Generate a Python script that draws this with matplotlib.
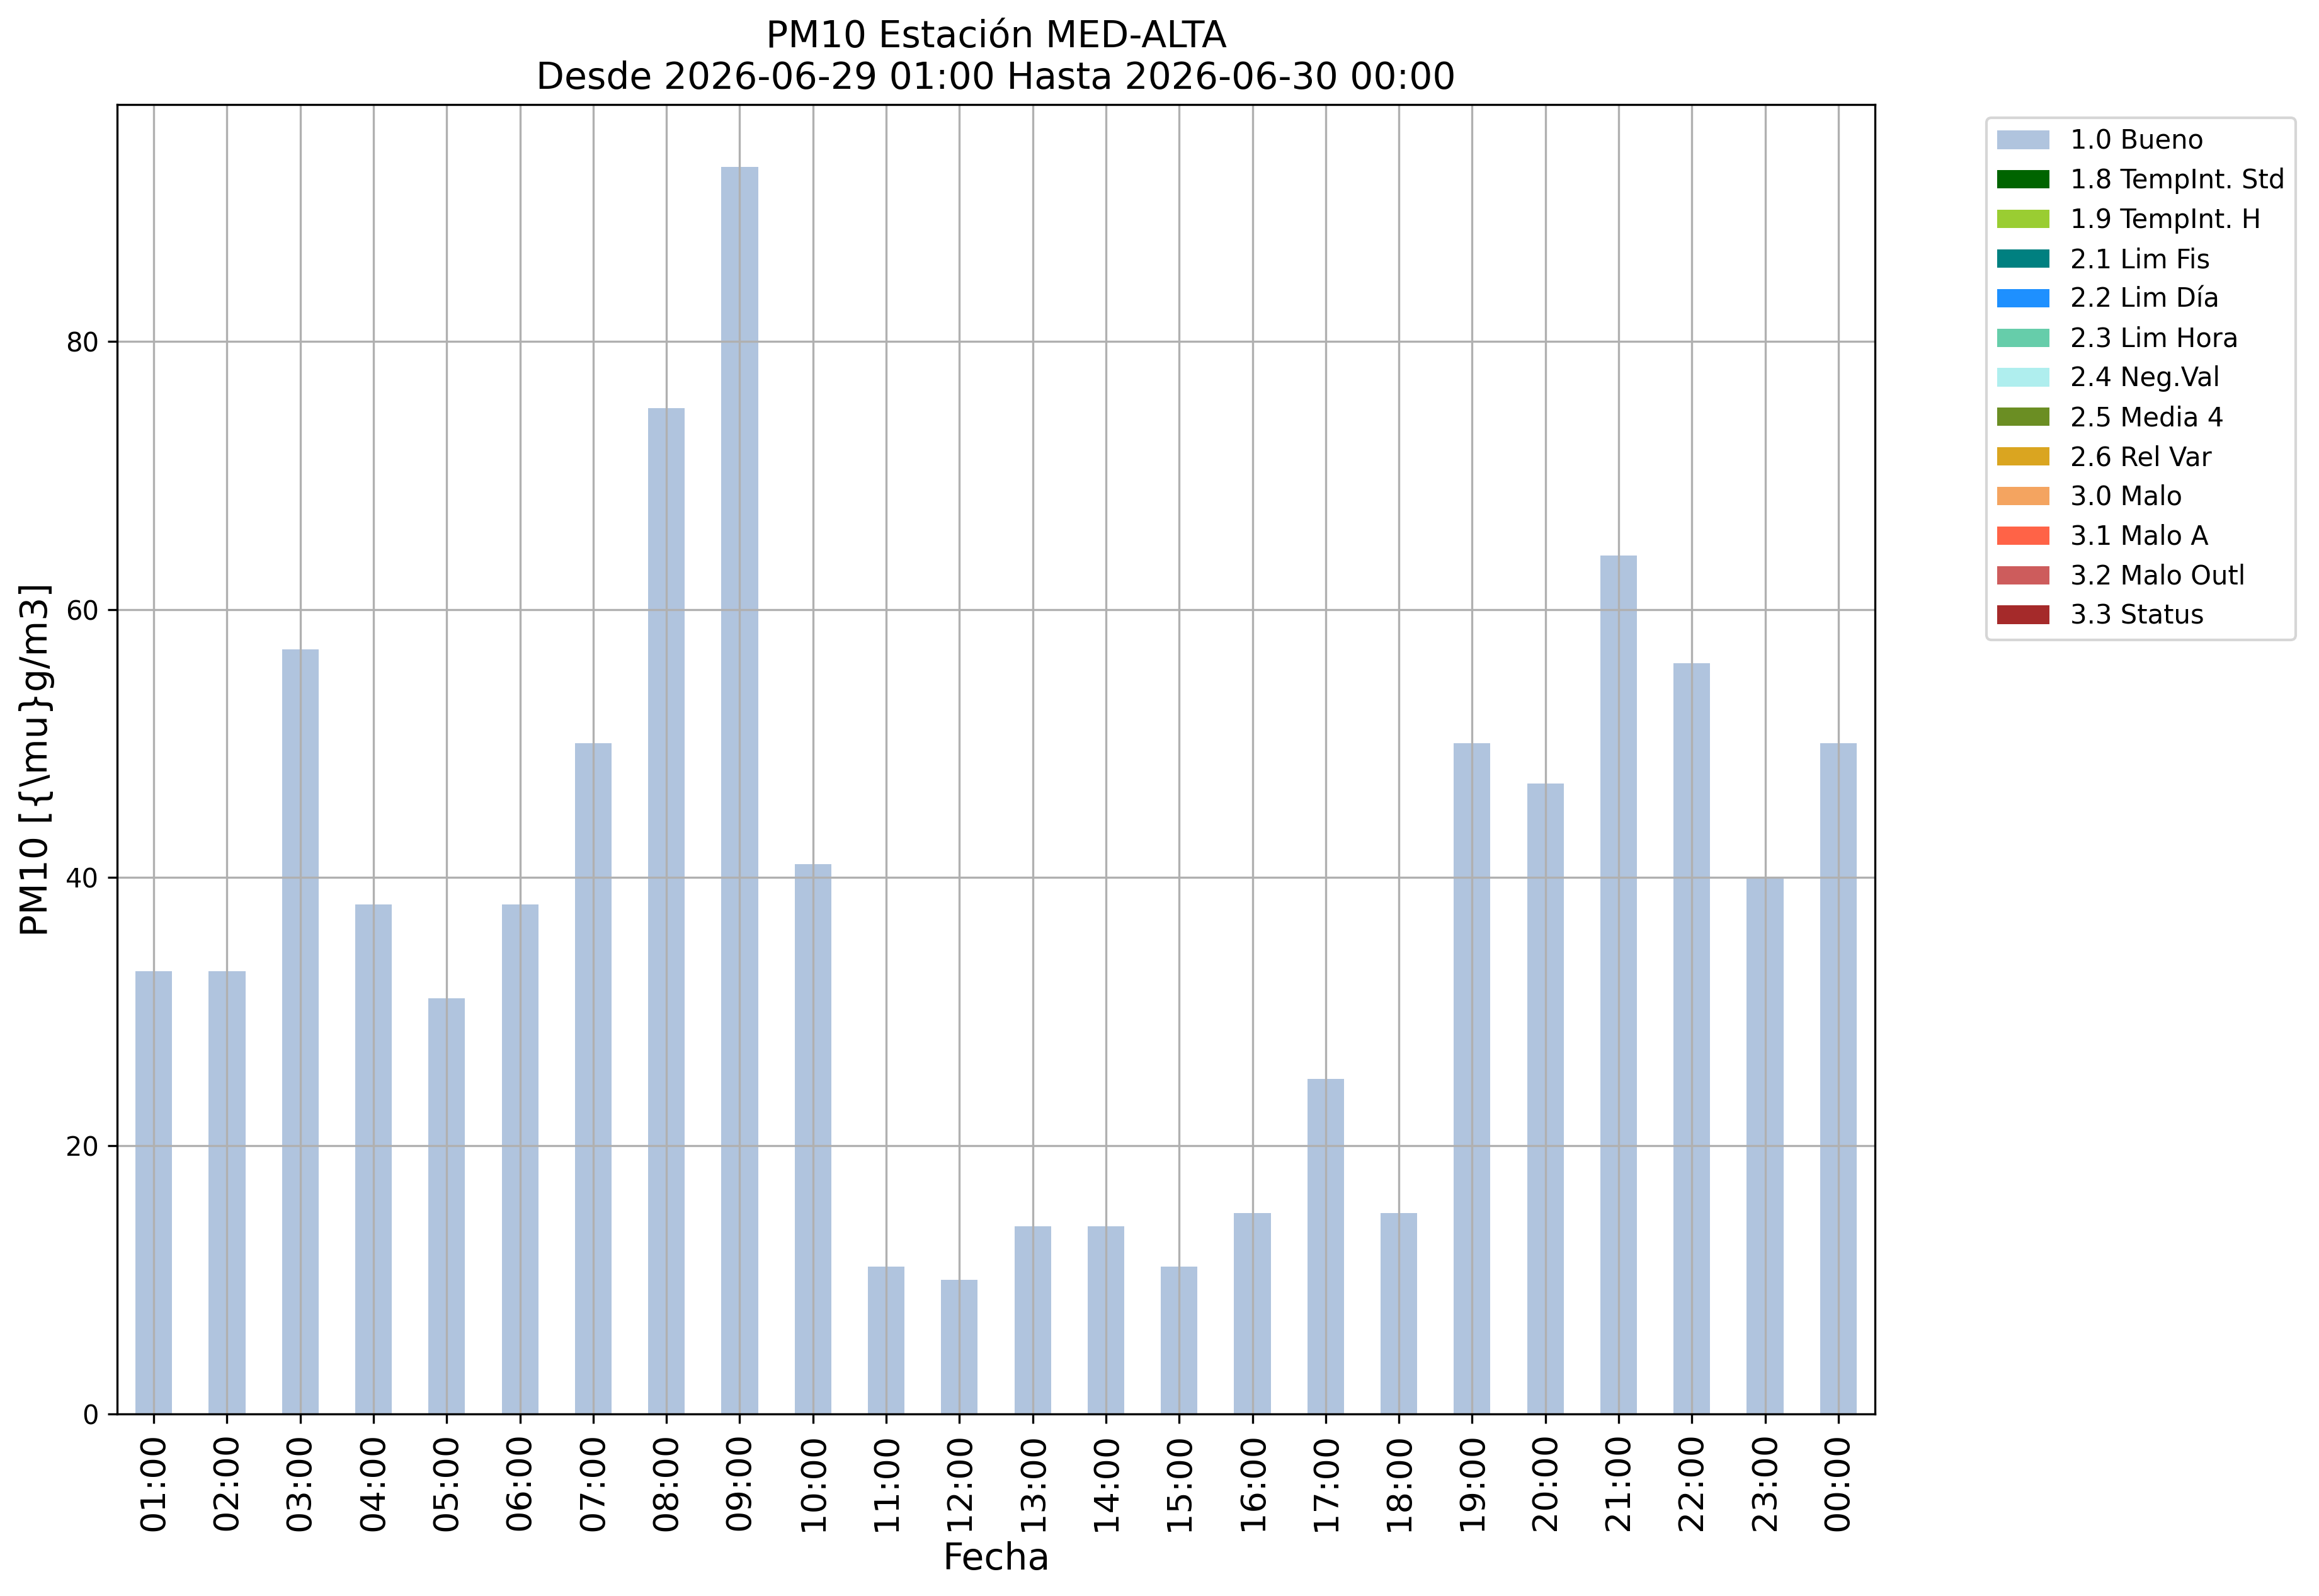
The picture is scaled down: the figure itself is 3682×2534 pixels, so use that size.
import matplotlib
matplotlib.use("Agg")
import matplotlib.pyplot as plt
import numpy as np

hours = ["01:00", "02:00", "03:00", "04:00", "05:00", "06:00", "07:00", "08:00",
         "09:00", "10:00", "11:00", "12:00", "13:00", "14:00", "15:00", "16:00",
         "17:00", "18:00", "19:00", "20:00", "21:00", "22:00", "23:00", "00:00"]

bueno = [33, 33, 57, 38, 31, 38, 50, 75, 93, 41, 11, 10, 14, 14, 11, 15,
         25, 15, 50, 47, 64, 56, 40, 50]

flag_labels = ["1.0 Bueno", "1.8 TempInt. Std", "1.9 TempInt. H", "2.1 Lim Fis",
               "2.2 Lim Día", "2.3 Lim Hora", "2.4 Neg.Val", "2.5 Media 4",
               "2.6 Rel Var", "3.0 Malo", "3.1 Malo A", "3.2 Malo Outl", "3.3 Status"]
flag_colors = ["lightsteelblue", "darkgreen", "yellowgreen", "teal", "dodgerblue",
               "mediumaquamarine", "paleturquoise", "olivedrab", "goldenrod",
               "sandybrown", "tomato", "indianred", "brown"]

other_flags = [0] * len(hours)  # no hours flagged in other categories

series = [bueno] + [other_flags] * (len(flag_labels) - 1)

W, H, DPI = 3682, 2534, 300
fig = plt.figure(figsize=(W / DPI, H / DPI), dpi=DPI)
ax = fig.add_axes([186 / W, 1 - 2245 / H, (2977 - 186) / W, (2245 - 166) / H])

x = np.arange(len(hours))
bottom = np.zeros(len(hours))
for vals, lab, col in zip(series, flag_labels, flag_colors):
    v = np.array(vals, dtype=float)
    ax.bar(x, v, width=0.5, bottom=bottom, color=col, label=lab)
    bottom += v

ax.set_xlim(-0.5, len(hours) - 0.5)
ax.set_ylim(0, bottom.max() * 1.05)
ax.set_xticks(x)
ax.set_xticklabels(hours, rotation=90, fontsize=13)
ax.tick_params(axis="y", labelsize=10)
ax.grid(True)
ax.set_xlabel("Fecha", fontsize=14)
ax.set_ylabel("PM10 [{\\mu}g/m3]", fontsize=14)
ax.set_title("PM10 Estación MED-ALTA\nDesde 2026-06-29 01:00 Hasta 2026-06-30 00:00",
             fontsize=14)
ax.legend(loc="upper left", bbox_to_anchor=(1.056, 1.0), fontsize=10)

fig.savefig("out.png", dpi=DPI)
